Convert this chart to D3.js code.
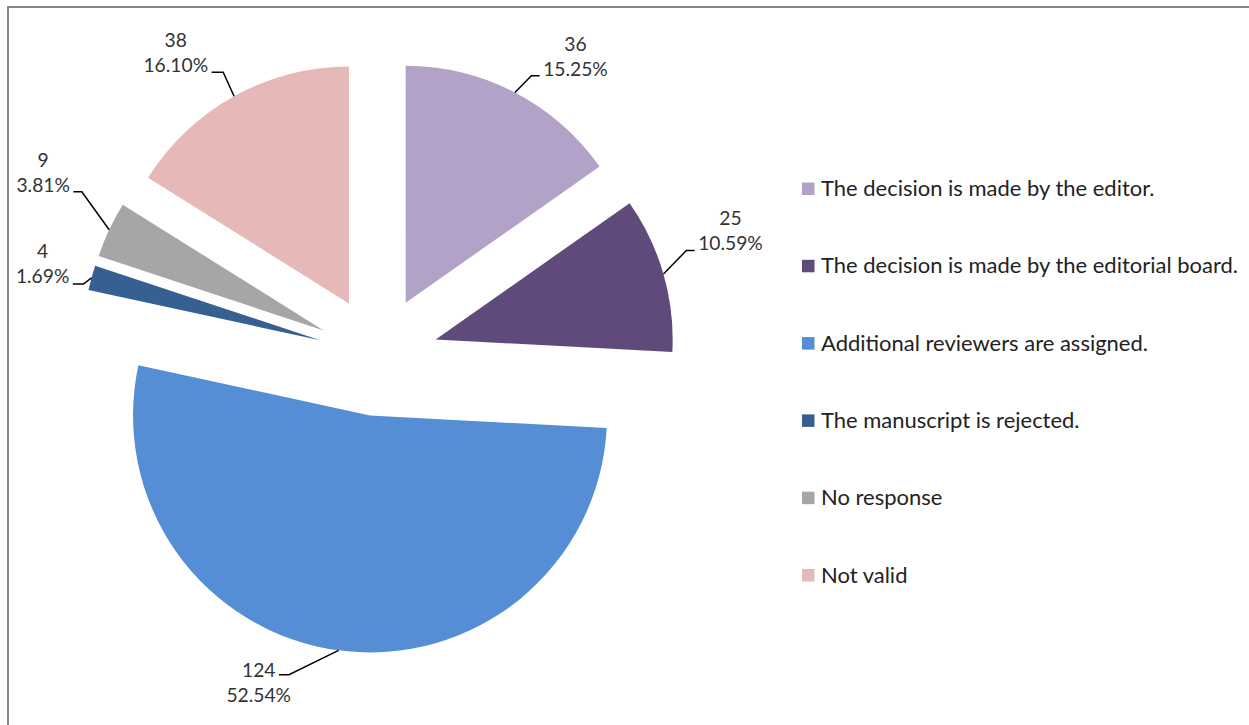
<!DOCTYPE html>
<html>
<head>
<meta charset="utf-8">
<script src="https://cdn.jsdelivr.net/npm/d3@7"></script>
<style>
  html, body { margin: 0; padding: 0; background: #fff; }
  svg { display: block; }
</style>
</head>
<body>
<svg id="chart" width="1249" height="725"></svg>
<script>
// ---- data ----
const categories = [
  "The decision is made by the editor.",
  "The decision is made by the editorial board.",
  "Additional reviewers are assigned.",
  "The manuscript is rejected.",
  "No response",
  "Not valid"
];
const values = [36, 25, 124, 4, 9, 38];
const colors = ["#B3A2C7", "#604A7B", "#558ED5", "#376092", "#A6A6A6", "#E6B9B8"];

// ---- layout (not data) ----
const W = 1249, H = 725;
const cx = 378, cy = 356, R = 237, explode = 60;
const fontFamily = "Lato, 'Open Sans', sans-serif";
// leader-line layout per slice: elbow offset from arc edge point, horizontal segment length, side, which text line attaches
const labelLayout = [
  { elbow: [16.4, -16.7], hlen: 8.3, side: 1, attach: 1, base: 0 },
  { elbow: [22.9, -23.6], hlen: 8.3, side: 1, attach: 1, base: 0 },
  { elbow: [-49.6, 24.3], hlen: 10, side: -1, attach: 0, base: 2 },
  { elbow: [-8, 6.2], hlen: 10.6, side: -1, attach: 1, base: -1 },
  { elbow: [-27.4, -38], hlen: 8.4, side: -1, attach: 1, base: 0.5 },
  { elbow: [-10.9, -24], hlen: 11.6, side: 1 * -1, attach: 1, base: 0 }
];

const svg = d3.select("#chart");

// outer border (frame of chart area, running off right/bottom)
svg.append("rect")
  .attr("x", 8).attr("y", 7)
  .attr("width", W + 20).attr("height", H + 20)
  .attr("fill", "none").attr("stroke", "#878787").attr("stroke-width", 2);

// font fitting helpers
function fitSize(text, target) {
  const t = svg.append("text").attr("font-family", fontFamily).attr("font-size", 20).text(text);
  const w = t.node().getComputedTextLength();
  t.remove();
  return 20 * target / w;
}
const legendSize = fitSize(categories[1], 417);
const totalVal = d3.sum(values);
const pct = v => (v / totalVal * 100).toFixed(2) + "%";
const labelSize = fitSize(pct(values[0]), 64.7);

const pie = d3.pie().sort(null).value(d => d);
const arcs = pie(values);
const arc = d3.arc().innerRadius(0).outerRadius(R);

const g = svg.append("g").attr("transform", `translate(${cx},${cy})`);

arcs.forEach((a, i) => {
  const mid = (a.startAngle + a.endAngle) / 2;
  const ox = Math.sin(mid) * explode, oy = -Math.cos(mid) * explode;
  const sg = g.append("g").attr("transform", `translate(${ox},${oy})`);
  sg.append("path").attr("d", arc(a)).attr("fill", colors[i]);

  // leader line
  const ex = Math.sin(mid) * R, ey = -Math.cos(mid) * R;
  const L = labelLayout[i];
  const bx = ex + L.elbow[0], by = ey + L.elbow[1];
  const dir = L.elbow[0] >= 0 ? 1 : -1;
  const hx = bx + dir * L.hlen;
  sg.append("path")
    .attr("d", d3.line()([[ex, ey], [bx, by], [hx, by]]))
    .attr("fill", "none").attr("stroke", "#000").attr("stroke-width", 1.5);

  const lines = [String(values[i]), pct(values[i])];
  const tmp = sg.append("text").attr("font-family", fontFamily).attr("font-size", labelSize).text(lines[L.attach]);
  const aw = tmp.node().getComputedTextLength();
  tmp.remove();
  const gap = 3.5;
  const centerX = dir > 0 ? hx + gap + aw / 2 : hx - gap - aw / 2;
  const baseAttach = by + L.base;
  lines.forEach((s, k) => {
    sg.append("text")
      .attr("x", centerX)
      .attr("y", baseAttach + (k - L.attach) * 25)
      .attr("text-anchor", "middle")
      .attr("font-family", fontFamily)
      .attr("font-size", labelSize)
      .attr("fill", "#333")
      .text(s);
  });
});

// legend
const legendY = d3.scalePoint().domain(categories).range([189, 575.5]);
const lg = svg.append("g");
categories.forEach((c, i) => {
  const y = legendY(c);
  lg.append("rect").attr("x", 802).attr("y", y - 6.5).attr("width", 12.5).attr("height", 12.5).attr("fill", colors[i]);
  lg.append("text").attr("x", 821).attr("y", y + 7)
    .attr("font-family", fontFamily).attr("font-size", legendSize)
    .attr("fill", "#222").text(c);
});
</script>
</body>
</html>
